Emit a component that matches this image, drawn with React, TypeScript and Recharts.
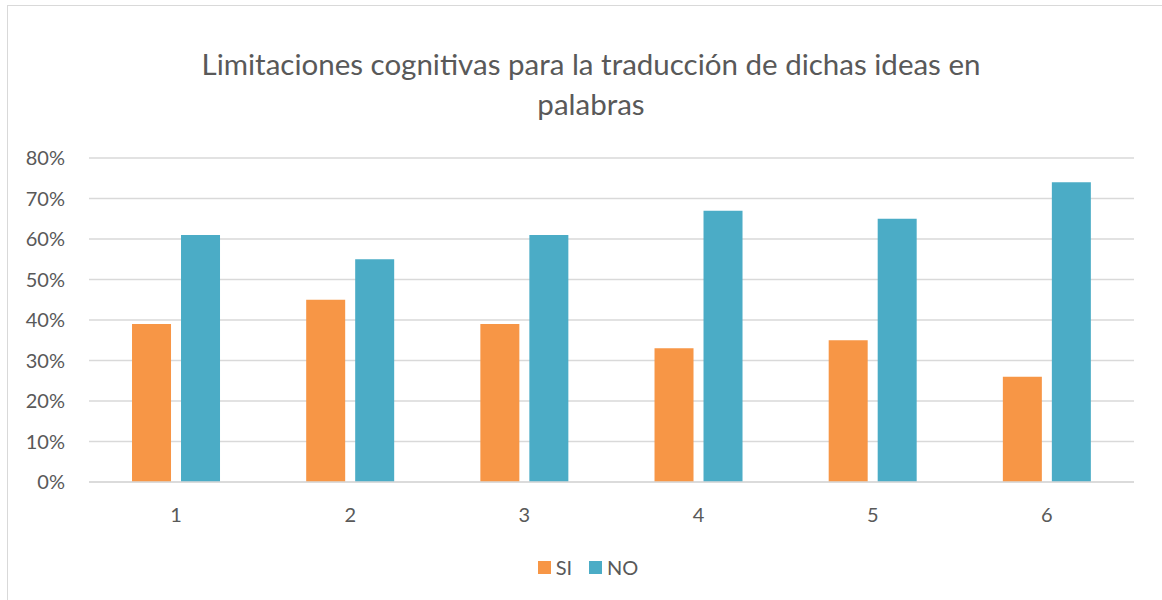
import React from "react";
import { BarChart, Bar, XAxis, YAxis, CartesianGrid, Legend } from "recharts";

const categories = ["1", "2", "3", "4", "5", "6"];
const siValues = [0.39, 0.45, 0.39, 0.33, 0.35, 0.26];
const noValues = [0.61, 0.55, 0.61, 0.67, 0.65, 0.74];
const yTicks = [0, 0.1, 0.2, 0.3, 0.4, 0.5, 0.6, 0.7, 0.8];
const titleLines = ["Limitaciones cognitivas para la traducción de dichas ideas en", "palabras"];
const seriesNames = ["SI", "NO"];
const seriesColors = ["#F79646", "#4BACC6"];

const data = categories.map((c, i) => ({ cat: c, SI: siValues[i], NO: noValues[i] }));

const FONT = "Lato, 'Open Sans', sans-serif";
const GRAY = "#595959";

function LegendContent() {
  return (
    <div style={{ display: "flex", justifyContent: "center", alignItems: "center", gap: 17, fontFamily: FONT, fontSize: 20, color: GRAY, height: 26, paddingLeft: 14 }}>
      {seriesNames.map((n, i) => (
        <div key={n} style={{ display: "flex", alignItems: "center" }}>
          <span style={{ display: "inline-block", width: 13, height: 13, background: seriesColors[i], marginRight: 5 }} />
          <span>{n}</span>
        </div>
      ))}
    </div>
  );
}

export default function App() {
  return (
    <div style={{ position: "absolute", left: 0, top: 0, width: 1162, height: 600, background: "#fff", overflow: "hidden", fontFamily: FONT }}>
      <div style={{ position: "absolute", left: 7, top: 5, width: 1170, height: 610, border: "1.5px solid #d9d9d9", boxSizing: "border-box" }} />
      <div style={{ position: "absolute", left: 0, top: 44, width: 1182, textAlign: "center", color: GRAY, fontSize: 29.5, lineHeight: "40px" }}>
        {titleLines.map((t) => (
          <div key={t}>{t}</div>
        ))}
      </div>
      <div style={{ position: "absolute", left: 0, top: 0 }}>
        <BarChart
          width={1162}
          height={600}
          data={data}
          margin={{ top: 132, right: 28, bottom: 88, left: 29 }}
          barCategoryGap="24.7%"
          barGap={10}
        >
          <CartesianGrid vertical={false} stroke="#d9d9d9" strokeWidth={1.5} />
          <XAxis
            dataKey="cat"
            height={30}
            axisLine={{ stroke: "#d9d9d9", strokeWidth: 1.5 }}
            tickLine={false}
            tickSize={0}
            tickMargin={26}
            tick={{ fill: GRAY, fontSize: 20, fontFamily: FONT }}
          />
          <YAxis
            width={60}
            domain={[0, 0.8]}
            ticks={yTicks}
            axisLine={false}
            tickLine={false}
            tickSize={0}
            tickMargin={24}
            tickFormatter={(v: number) => `${Math.round(v * 100)}%`}
            tick={{ fill: GRAY, fontSize: 20, fontFamily: FONT }}
          />
          <Legend
            verticalAlign="top"
            align="center"
            content={<LegendContent />}
            wrapperStyle={{ top: 554, left: 0, width: 1162 }}
          />
          <Bar dataKey="SI" name="SI" fill={seriesColors[0]} isAnimationActive={false} />
          <Bar dataKey="NO" name="NO" fill={seriesColors[1]} isAnimationActive={false} />
        </BarChart>
      </div>
    </div>
  );
}
